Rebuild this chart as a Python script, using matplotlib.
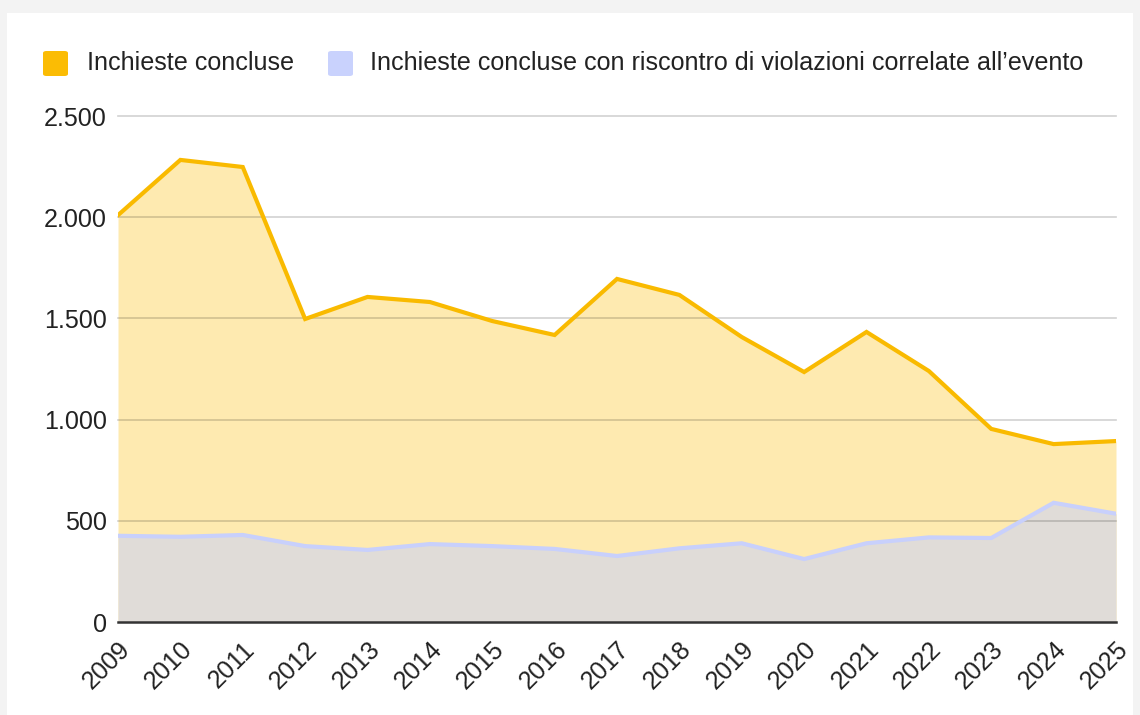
import matplotlib
matplotlib.use("Agg")
import matplotlib.pyplot as plt
from matplotlib.patches import FancyBboxPatch, Rectangle

years = list(range(2009, 2026))
year_labels = [str(y) for y in years]
concluse = [2010, 2283, 2248, 1497, 1606, 1581, 1487, 1418, 1695, 1616, 1408, 1235, 1433, 1240, 954, 879, 894]
violazioni = [426, 421, 430, 375, 356, 385, 375, 361, 326, 364, 389, 311, 389, 418, 415, 589, 535]
yticks = [0, 500, 1000, 1500, 2000, 2500]
ytick_labels = ["0", "500", "1.000", "1.500", "2.000", "2.500"]
legend_labels = ["Inchieste concluse",
                 "Inchieste concluse con riscontro di violazioni correlate all\u2019evento"]

plt.rcParams['font.family'] = ['Liberation Sans', 'DejaVu Sans']
FS = 18.1

W, H = 1140, 715
fig = plt.figure(figsize=(W / 100, H / 100), dpi=100, facecolor="#f3f3f3")

# white card
fig.patches.append(Rectangle((7 / W, 0), (1133 - 7) / W, (H - 13) / H,
                             transform=fig.transFigure, facecolor="white",
                             edgecolor="none", zorder=-10))

ax = fig.add_axes([118 / W, (H - 622) / H, (1116 - 118) / W, (622 - 116) / H])
ax.set_facecolor("none")
ax.set_zorder(1)

yellow = "#f9ba00"
blue_line = "#c8d0fc"

ax.fill_between(years, 0, concluse, color="#feeab0", lw=0, zorder=1)
ax.fill_between(years, 0, violazioni, color="#e0dcd8", lw=0, zorder=1.5)
for t in yticks[1:]:
    ax.axhline(t, color="black", alpha=0.18, lw=1.2, zorder=2, clip_on=False)
ax.plot(years, violazioni, color=blue_line, lw=3.0, zorder=3, solid_joinstyle="miter")
ax.plot(years, concluse, color=yellow, lw=3.0, zorder=4, solid_joinstyle="miter")
ax.axhline(0, color="#333333", lw=1.8, zorder=5, clip_on=False)

ax.set_xlim(2009, 2025)
ax.set_ylim(0, 2500)
ax.set_yticks(yticks)
ax.set_yticklabels(ytick_labels, fontsize=FS, color="#222222")
ax.set_xticks(years)
ax.set_xticklabels(year_labels, fontsize=FS, color="#222222",
                   rotation=45, ha="right", va="top", rotation_mode="anchor")
ax.tick_params(axis="both", length=0)
ax.tick_params(axis="y", pad=8)
ax.tick_params(axis="x", pad=11)
for s in ax.spines.values():
    s.set_visible(False)

# legend
def legend_item(x_sq, x_txt, color, label):
    fig.patches.append(FancyBboxPatch((x_sq / W, (H - 76) / H), 25 / W, 25 / H,
                                      boxstyle="round,pad=0,rounding_size=0.003",
                                      transform=fig.transFigure, facecolor=color,
                                      edgecolor="none", zorder=3))
    fig.text(x_txt / W, (H - 63) / H, label, fontsize=FS, color="#222222",
             va="center", ha="left")

legend_item(43, 87, "#fbbc04", legend_labels[0])
legend_item(328, 370, "#c9d2fd", legend_labels[1])

fig.savefig("out.png", dpi=100, facecolor=fig.get_facecolor())
